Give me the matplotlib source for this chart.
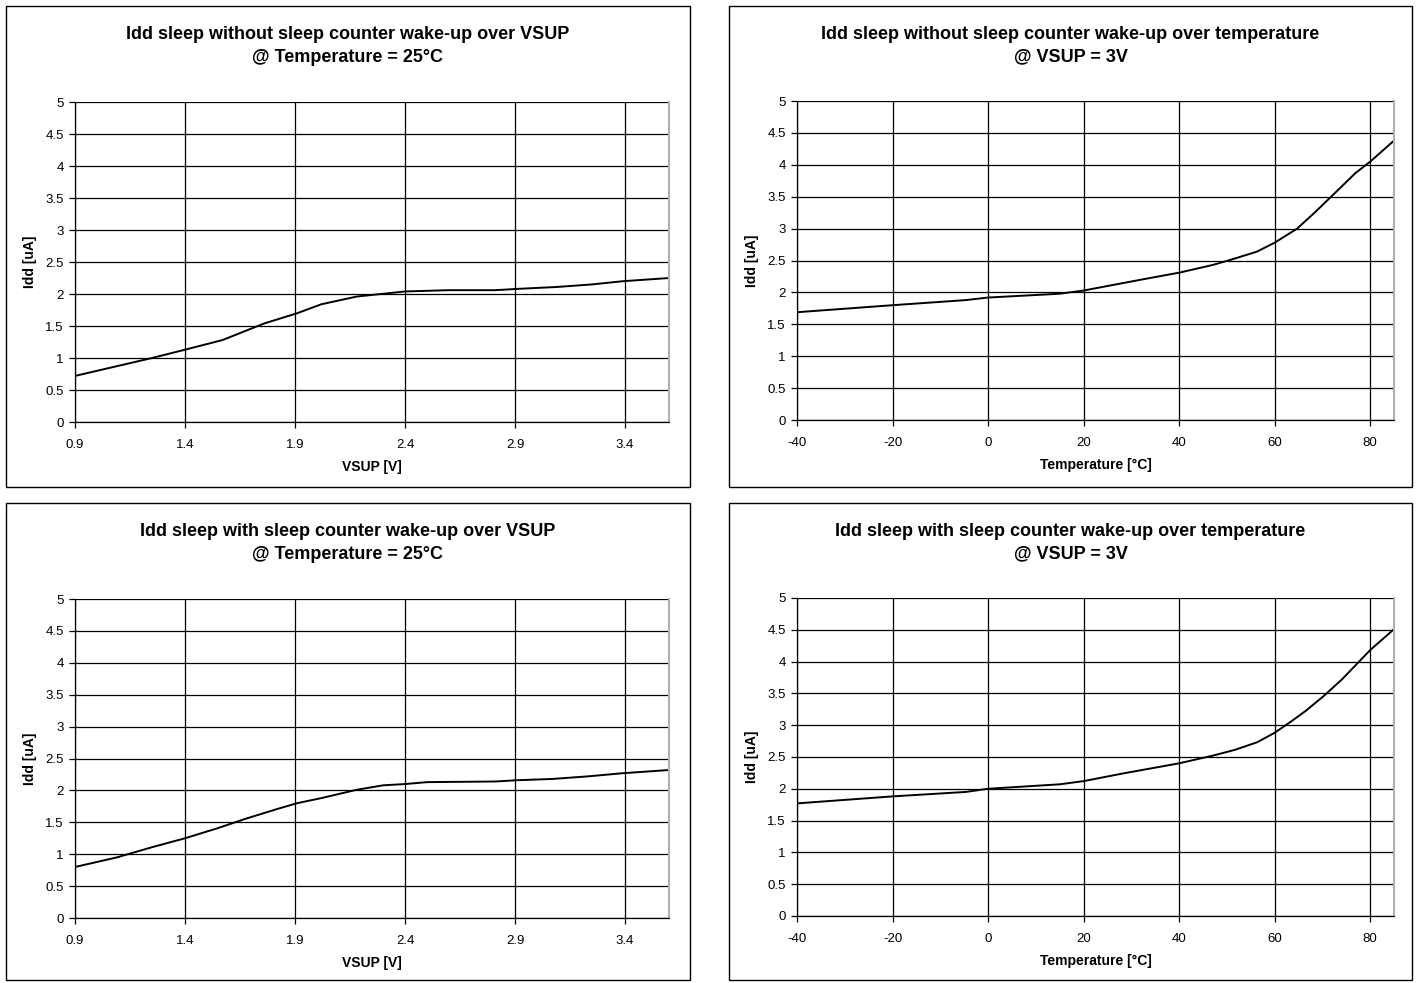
import matplotlib
matplotlib.use('Agg')
import matplotlib.pyplot as plt
from matplotlib.patches import Rectangle

plt.rcParams['font.family'] = ['Liberation Sans', 'DejaVu Sans']

# Idd sleep without sleep counter wake-up, over VSUP (T = 25C)
vsup_a = [0.9, 1.25, 1.4, 1.57, 1.76, 1.91, 2.02, 2.18, 2.4, 2.6, 2.81, 2.91, 3.09, 3.25, 3.39, 3.6]
idd_a = [0.72, 1.0, 1.13, 1.28, 1.54, 1.70, 1.84, 1.96, 2.04, 2.06, 2.06, 2.08, 2.11, 2.15, 2.20, 2.25]

# Idd sleep without sleep counter wake-up, over temperature (VSUP = 3V)
temp_b = [-40, -20, -4.7, 0, 15, 20, 32, 40, 47, 51.6, 56.3, 60, 64.7, 68.5, 73.2, 76.9, 80, 85]
idd_b = [1.69, 1.80, 1.88, 1.92, 1.98, 2.03, 2.20, 2.31, 2.43, 2.53, 2.64, 2.78, 3.0, 3.26, 3.6, 3.87, 4.05, 4.38]

# Idd sleep with sleep counter wake-up, over VSUP (T = 25C)
vsup_c = [0.9, 1.09, 1.25, 1.4, 1.55, 1.67, 1.82, 1.91, 2.02, 2.18, 2.3, 2.4, 2.5, 2.81, 2.91, 3.07, 3.23, 3.39, 3.6]
idd_c = [0.80, 0.95, 1.11, 1.25, 1.41, 1.55, 1.71, 1.80, 1.88, 2.01, 2.08, 2.10, 2.13, 2.14, 2.16, 2.18, 2.22, 2.27, 2.32]

# Idd sleep with sleep counter wake-up, over temperature (VSUP = 3V)
temp_d = [-40, -20, -4.7, 0, 15, 20, 28.2, 40, 47, 51.6, 56.3, 60, 63.3, 66.6, 70.3, 74.1, 80, 85]
idd_d = [1.77, 1.88, 1.95, 2.0, 2.07, 2.12, 2.24, 2.40, 2.52, 2.61, 2.73, 2.88, 3.05, 3.23, 3.46, 3.72, 4.18, 4.51]

vsup_ticks = [0.9, 1.4, 1.9, 2.4, 2.9, 3.4]
temp_ticks = [-40, -20, 0, 20, 40, 60, 80]
idd_ticks = [0, 0.5, 1, 1.5, 2, 2.5, 3, 3.5, 4, 4.5, 5]
idd_labels = ['0', '0.5', '1', '1.5', '2', '2.5', '3', '3.5', '4', '4.5', '5']

panels = [
    (vsup_a, idd_a, 'Idd sleep without sleep counter wake-up over VSUP\n@ Temperature = 25°C',
     'VSUP [V]', vsup_ticks, (0.9, 3.6), [0.0529, 0.5707, 0.4189, 0.3255], [0.0042, 0.5046, 0.4824, 0.4893]),
    (temp_b, idd_b, 'Idd sleep without sleep counter wake-up over temperature\n@ VSUP = 3V',
     'Temperature [°C]', temp_ticks, (-40, 85), [0.5621, 0.5727, 0.4210, 0.3245], [0.5141, 0.5046, 0.4817, 0.4893]),
    (vsup_c, idd_c, 'Idd sleep with sleep counter wake-up over VSUP\n@ Temperature = 25°C',
     'VSUP [V]', vsup_ticks, (0.9, 3.6), [0.0529, 0.0661, 0.4189, 0.3245], [0.0042, 0.0030, 0.4824, 0.4853]),
    (temp_d, idd_d, 'Idd sleep with sleep counter wake-up over temperature\n@ VSUP = 3V',
     'Temperature [°C]', temp_ticks, (-40, 85), [0.5621, 0.0682, 0.4210, 0.3235], [0.5141, 0.0030, 0.4817, 0.4853]),
]

fig = plt.figure(figsize=(14.18, 9.83), dpi=100)

for x, y, title, xlabel, xticks, xlim, pos, box in panels:
    # outer chart frame
    fig.patches.append(Rectangle((box[0], box[1]), box[2], box[3], transform=fig.transFigure,
                                 fill=False, edgecolor='black', linewidth=1.0))
    ax = fig.add_axes(pos)
    ax.plot(x, y, color='black', linewidth=1.4)
    ax.set_xlim(*xlim)
    ax.set_ylim(0, 5)
    ax.set_xticks(xticks)
    ax.set_xticklabels([str(t) for t in xticks])
    ax.set_yticks(idd_ticks)
    ax.set_yticklabels(idd_labels)
    ax.grid(True, color='black', linewidth=0.9)
    ax.set_axisbelow(True)
    ax.tick_params(direction='out', length=4, width=0.9, labelsize=9.5)
    ax.tick_params(axis='x', pad=8)
    ax.tick_params(axis='y', pad=4)
    ax.spines['top'].set_visible(False)
    ax.spines['right'].set_color('#b0b0b0')
    ax.spines['right'].set_linewidth(1.5)
    ax.spines['left'].set_linewidth(0.9)
    ax.spines['bottom'].set_linewidth(0.9)
    ax.set_xlabel(xlabel, fontsize=10, fontweight='bold', labelpad=7)
    ax.set_ylabel('Idd [uA]', fontsize=10, fontweight='bold', labelpad=6)
    cx = box[0] + box[2] / 2
    fig.text(cx, box[1] + box[3] - 0.02, title, ha='center', va='top',
             fontsize=13, fontweight='bold', linespacing=1.45)

fig.savefig('out.png', dpi=100)
